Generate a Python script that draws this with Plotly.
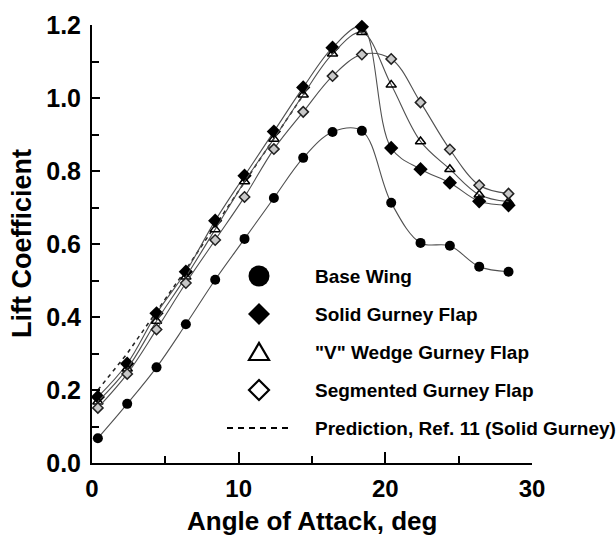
import plotly.graph_objects as go

# Angle of attack (deg) and lift coefficient for each configuration
alpha = [0.4, 2.4, 4.4, 6.4, 8.4, 10.4, 12.4, 14.4, 16.4, 18.4, 20.4, 22.4, 24.4, 26.4, 28.4]
cl_base = [0.068, 0.162, 0.262, 0.380, 0.502, 0.614, 0.726, 0.836, 0.907, 0.910, 0.713, 0.603, 0.595, 0.538, 0.524]
cl_solid = [0.181, 0.272, 0.410, 0.524, 0.664, 0.787, 0.908, 1.029, 1.138, 1.195, 0.863, 0.805, 0.768, 0.717, 0.706]
cl_wedge = [0.168, 0.258, 0.389, 0.510, 0.640, 0.771, 0.888, 1.009, 1.121, 1.180, 1.036, 0.881, 0.805, 0.735, 0.716]
cl_segmented = [0.151, 0.244, 0.366, 0.493, 0.611, 0.729, 0.860, 0.962, 1.060, 1.119, 1.107, 0.988, 0.859, 0.761, 0.738]

alpha_pred = [0.4, 2.4, 4.4, 6.4, 8.4, 10.4, 12.4, 14.6]
cl_pred = [0.200, 0.300, 0.415, 0.530, 0.650, 0.770, 0.890, 1.020]

legend_labels = ["Base Wing", "Solid Gurney Flap", '"V" Wedge Gurney Flap',
                 "Segmented Gurney Flap", "Prediction, Ref. 11 (Solid Gurney)"]

FONT = "Liberation Sans"
LINE = "#505050"

fig = go.Figure()

fig.add_trace(go.Scatter(
    x=alpha_pred, y=cl_pred, mode="lines",
    line=dict(color="#222", width=1.5, dash="4px,4px"),
    cliponaxis=False, showlegend=False))

series = [
    (cl_base, dict(symbol="circle", size=10, color="black", line=dict(width=0))),
    (cl_solid, dict(symbol="diamond", size=11, color="black", line=dict(width=0))),
    (cl_wedge, dict(symbol="triangle-up-open", size=9, color="black", line=dict(width=1.5))),
    (cl_segmented, dict(symbol="diamond", size=8, color="#c8c8c8", line=dict(color="#222", width=1.5))),
]
for ys, mk in series:
    fig.add_trace(go.Scatter(
        x=alpha, y=ys, mode="lines+markers",
        line=dict(color=LINE, width=1.1, shape="spline", smoothing=1.0),
        marker=mk, cliponaxis=False, showlegend=False))

# plot area in pixels
L, R, T, B = 92, 84, 25, 72
W, H = 616, 535
pw, ph = W - L - R, H - T - B


def px(xp):
    return (xp - L) / pw


def py(yp):
    return (H - B - yp) / ph


# hand-built key: symbols drawn as pixel-sized shapes
key_x = 259
rows = [276, 314, 352, 390, 428]
shapes = []
shapes.append(dict(type="circle", xref="paper", yref="paper", xsizemode="pixel", ysizemode="pixel",
                   xanchor=px(key_x), yanchor=py(rows[0]), x0=-10.5, x1=10.5, y0=-10.5, y1=10.5,
                   fillcolor="black", line=dict(width=0)))
shapes.append(dict(type="path", xref="paper", yref="paper", xsizemode="pixel", ysizemode="pixel",
                   xanchor=px(key_x), yanchor=py(rows[1]),
                   path="M -11 0 L 0 11 L 11 0 L 0 -11 Z", fillcolor="black", line=dict(width=0)))
shapes.append(dict(type="path", xref="paper", yref="paper", xsizemode="pixel", ysizemode="pixel",
                   xanchor=px(key_x), yanchor=py(rows[2]),
                   path="M -10 -8 L 10 -8 L 0 9 Z", fillcolor="white", line=dict(color="black", width=2.2)))
shapes.append(dict(type="path", xref="paper", yref="paper", xsizemode="pixel", ysizemode="pixel",
                   xanchor=px(key_x), yanchor=py(rows[3]),
                   path="M -10 0 L 0 10 L 10 0 L 0 -10 Z", fillcolor="white", line=dict(color="black", width=2.2)))
shapes.append(dict(type="line", xref="paper", yref="paper",
                   x0=px(227), x1=px(291), y0=py(rows[4]), y1=py(rows[4]),
                   line=dict(color="black", width=2, dash="6px,5px")))

annotations = []
for label, yr in zip(legend_labels, rows):
    annotations.append(dict(text=label, xref="paper", yref="paper", x=px(313), y=py(yr),
                            xanchor="left", yanchor="middle", showarrow=False,
                            font=dict(family=FONT, size=19, color="black", weight="bold")))

annotations.append(dict(text="Angle of Attack, deg", xref="paper", yref="paper", x=0.5, y=0,
                        xanchor="center", yanchor="top", yshift=-41, showarrow=False,
                        font=dict(family=FONT, size=26, color="black", weight="bold")))
annotations.append(dict(text="Lift Coefficient", xref="paper", yref="paper", x=0, y=0.5,
                        xanchor="center", yanchor="middle", xshift=-70, textangle=-90, showarrow=False,
                        font=dict(family=FONT, size=27, color="black", weight="bold")))

tickfont = dict(family=FONT, size=25, color="black", weight="bold")
xtickfont = dict(family=FONT, size=24, color="black", weight="bold")

fig.update_layout(
    width=W, height=H, margin=dict(l=L, r=R, t=T, b=B),
    paper_bgcolor="white", plot_bgcolor="white",
    shapes=shapes, annotations=annotations, showlegend=False,
    xaxis=dict(range=[0, 30], tickvals=[0, 10, 20, 30], ticks="inside", ticklen=11, tickwidth=2,
               tickcolor="black", showline=True, linewidth=2, linecolor="black", showgrid=False,
               zeroline=False, tickfont=xtickfont, ticklabelstandoff=3,
               minor=dict(tickvals=[5, 15, 25], ticks="inside", ticklen=7, tickwidth=2, tickcolor="black",
                          showgrid=False)),
    yaxis=dict(range=[0, 1.2], tickvals=[0, 0.2, 0.4, 0.6, 0.8, 1.0, 1.2],
               ticktext=["0.0", "0.2", "0.4", "0.6", "0.8", "1.0", "1.2"],
               ticks="inside", ticklen=8, tickwidth=2, tickcolor="black",
               showline=True, linewidth=2, linecolor="black", showgrid=False, zeroline=False,
               tickfont=tickfont, ticklabelstandoff=4,
               minor=dict(tickvals=[0.1, 0.3, 0.5, 0.7, 0.9, 1.1], ticks="inside", ticklen=7, tickwidth=2,
                          tickcolor="black", showgrid=False)),
)

fig.write_html("out.html")
